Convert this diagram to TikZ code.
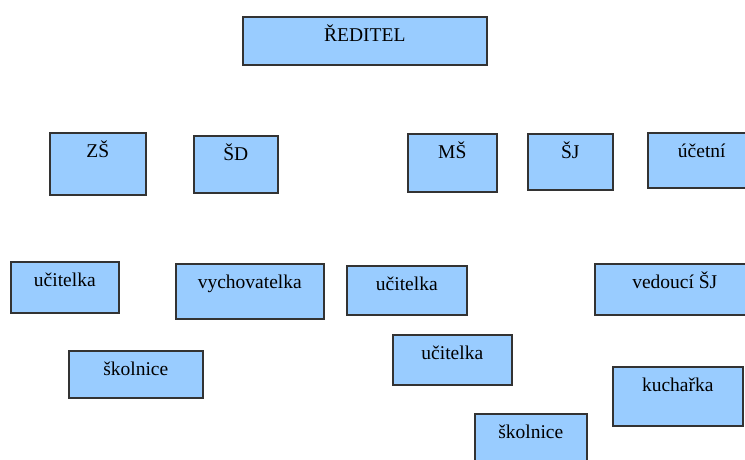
\documentclass[tikz,border=0pt]{standalone}
\usepackage{fontspec}
\setmainfont{Liberation Serif}
\newfontfamily\boxfont{Liberation Serif}
\usetikzlibrary{positioning}
\definecolor{boxblue}{HTML}{99CCFF}
\definecolor{boxline}{HTML}{333333}

\begin{document}
\begin{tikzpicture}
                [
                x=1pt, y=-1pt,
                every node/.style={rectangle, draw=boxline, fill=boxblue, line width=1.6pt, anchor=north west, inner sep=0pt, text height=25pt, font=\boxfont\fontsize{19.5}{23}\selectfont},
                box/.style 2 args={minimum width=#1pt, text depth=#2pt}
                ]
                \useasboundingbox (0,0) rectangle (745,459);
                \clip (0,0) rectangle (745,459);
                % Top node
                \node[box={244}{23}] (reditel) at (242,16) {ŘEDITEL};
                % Level 1: units
                \node[box={96}{37}] (zs) at (49,132) {ZŠ};
                \node[box={84}{32}] (sd) at (193,135) {ŠD};
                \node[box={89}{33}] (ms) at (407,133) {MŠ};
                \node[box={85}{31}] (sj) at (527,133) {ŠJ};
                \node[box={108}{30}] (ucetni) at (647,132) {účetní};
                % Level 2: staff
                \node[box={108}{26}] (ucitelkaA) at (10,261) {učitelka};
                \node[box={148}{30}] (vychovatelka) at (175,263) {vychovatelka};
                \node[box={120}{24}] (ucitelkaB) at (346,265) {učitelka};
                \node[box={160}{26}] (vedouci) at (594,263) {vedoucí ŠJ};
                % Level 3: staff
                \node[box={134}{22}] (skolniceA) at (68,350) {školnice};
                \node[box={119}{25}] (ucitelkaC) at (392,334) {učitelka};
                \node[box={130}{34}] (kucharka) at (612,366) {kuchařka};
                \node[box={112}{32}] (skolniceB) at (474,413) {školnice};
            \end{tikzpicture}
\end{document}
